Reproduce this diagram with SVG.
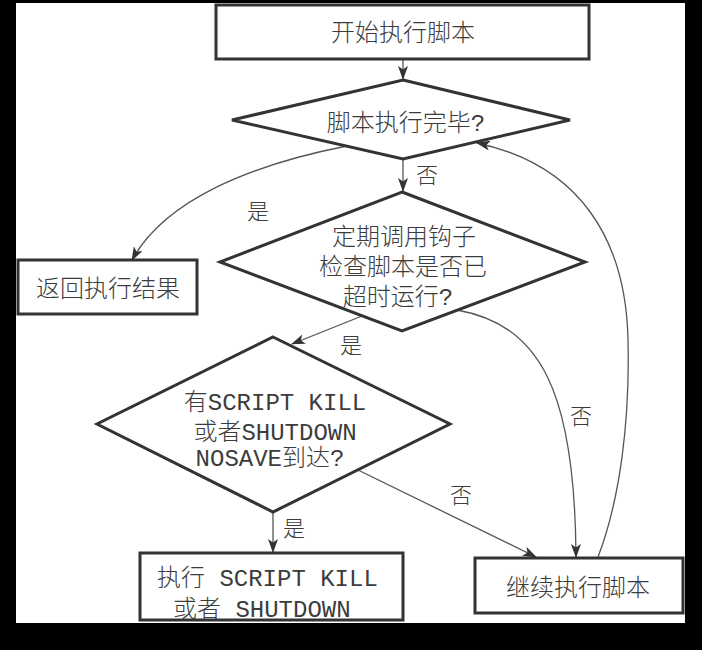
<svg xmlns="http://www.w3.org/2000/svg" width="702" height="650" viewBox="0 0 702 650">
<defs>
<style>
.node{fill:#fff;stroke:#333;stroke-width:3}
.t{font-family:"Liberation Mono","Noto Sans CJK SC",monospace;font-size:24px;fill:#3c3c3c;font-weight:300}
.c{font-family:"Noto Sans CJK SC",sans-serif;font-size:24px;fill:#3c3c3c;font-weight:300}
.lbl{font-family:"Noto Sans CJK SC",sans-serif;font-size:22px;fill:#3c3c3c;font-weight:300;text-anchor:middle}
.mid{text-anchor:middle}
.edge{fill:none;stroke:#555;stroke-width:1.3}
</style>
<marker id="arr" viewBox="0 0 14 10" refX="13" refY="5" markerWidth="14" markerHeight="10" markerUnits="userSpaceOnUse" orient="auto">
<path d="M0,0 L14,5 L0,10 L3.5,5 z" fill="#333"/>
</marker>
</defs>
<rect x="0" y="0" width="702" height="650" fill="#000"/>
<rect x="16" y="3" width="669" height="620" fill="#fff"/>

<g id="connectors">
<path class="edge" d="M403,60 L403,79" marker-end="url(#arr)"/>
<path class="edge" d="M403,159 L403,191" marker-end="url(#arr)"/>
<path class="edge" d="M347,146 C250,165 165,200 132,260" marker-end="url(#arr)"/>
<path class="edge" d="M362,316 L292,344" marker-end="url(#arr)"/>
<path class="edge" d="M457,310 C540,325 575,390 576,557" marker-end="url(#arr)"/>
<path class="edge" d="M273,512 L273,552" marker-end="url(#arr)"/>
<path class="edge" d="M358,470 L536,557" marker-end="url(#arr)"/>
<path class="edge" d="M598,557 C620,500 630,420 628,340 C626,240 580,165 477,143" marker-end="url(#arr)"/>
<text class="lbl" x="258" y="219">是</text>
<text class="lbl" x="427" y="183">否</text>
<text class="lbl" x="351" y="353">是</text>
<text class="lbl" x="294" y="536">是</text>
<text class="lbl" x="461" y="503">否</text>
<text class="lbl" x="581" y="424">否</text>
</g>

<g id="start">
<rect class="node" x="216" y="5" width="373" height="54"/>
<text class="c mid" x="403" y="41">开始执行脚本</text>
</g>

<g id="check-done">
<polygon class="node" points="403,80 570,120 403,159 232,120"/>
<text class="t mid" x="406" y="131">脚本执行完毕?</text>
</g>

<g id="return-result">
<rect class="node" x="18" y="260" width="179" height="54"/>
<text class="c mid" x="108" y="297">返回执行结果</text>
</g>

<g id="check-timeout">
<polygon class="node" points="402,192 585,262 402,331 220,262"/>
<text class="t mid" x="404" y="245">定期调用钩子</text>
<text class="t mid" x="403" y="275">检查脚本是否已</text>
<text class="t mid" x="398" y="305">超时运行?</text>
</g>

<g id="check-kill">
<polygon class="node" points="273,337 450,424 273,512 97,424"/>
<text class="t mid" x="275" y="410">有SCRIPT KILL</text>
<text class="t mid" x="275" y="440">或者SHUTDOWN</text>
<text class="t mid" x="270" y="466">NOSAVE到达?</text>
</g>

<g id="do-kill">
<rect class="node" x="140" y="553" width="263" height="67"/>
<text class="t" x="157" y="586">执行 SCRIPT KILL</text>
<text class="t" x="173" y="617">或者 SHUTDOWN</text>
</g>

<g id="continue">
<rect class="node" x="475" y="558" width="208" height="55"/>
<text class="c mid" x="578" y="596">继续执行脚本</text>
</g>
</svg>
